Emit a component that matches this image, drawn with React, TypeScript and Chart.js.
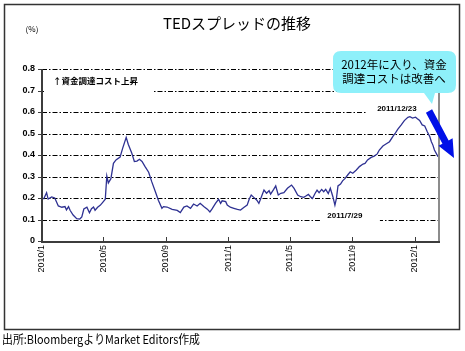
import { useEffect, useRef } from "react";
import { Chart, registerables } from "chart.js";

Chart.register(...registerables);

// ---- data ----
const dates = [
  "2010/01/04", "2010/01/10", "2010/01/13", "2010/01/20", "2010/01/26", "2010/02/02", "2010/02/09", "2010/02/15",
  "2010/02/18", "2010/02/22", "2010/02/25", "2010/03/03", "2010/03/10", "2010/03/16", "2010/03/20", "2010/03/24",
  "2010/03/30", "2010/04/04", "2010/04/08", "2010/04/12", "2010/04/15", "2010/04/20", "2010/04/25", "2010/04/30",
  "2010/05/05", "2010/05/08", "2010/05/11", "2010/05/16", "2010/05/21", "2010/05/26", "2010/06/03", "2010/06/08",
  "2010/06/15", "2010/06/19", "2010/06/26", "2010/07/01", "2010/07/06", "2010/07/11", "2010/07/16", "2010/07/22",
  "2010/07/29", "2010/08/04", "2010/08/11", "2010/08/17", "2010/08/24", "2010/08/27", "2010/09/03", "2010/09/13",
  "2010/09/23", "2010/09/29", "2010/10/06", "2010/10/12", "2010/10/19", "2010/10/25", "2010/11/01", "2010/11/07",
  "2010/11/14", "2010/11/21", "2010/11/26", "2010/11/30", "2010/12/07", "2010/12/13", "2010/12/17", "2010/12/20",
  "2010/12/27", "2010/12/30", "2011/01/05", "2011/01/12", "2011/01/19", "2011/01/25", "2011/02/01", "2011/02/07",
  "2011/02/11", "2011/02/15", "2011/02/20", "2011/02/26", "2011/03/02", "2011/03/07", "2011/03/12", "2011/03/17",
  "2011/03/22", "2011/03/25", "2011/03/31", "2011/04/04", "2011/04/09", "2011/04/14", "2011/04/20", "2011/04/27",
  "2011/05/05", "2011/05/10", "2011/05/17", "2011/05/23", "2011/05/29", "2011/06/02", "2011/06/07", "2011/06/11",
  "2011/06/15", "2011/06/20", "2011/06/24", "2011/06/28", "2011/07/03", "2011/07/07", "2011/07/11", "2011/07/16",
  "2011/07/20", "2011/07/25", "2011/07/29", "2011/08/01", "2011/08/04", "2011/08/09", "2011/08/13", "2011/08/18",
  "2011/08/23", "2011/08/28", "2011/09/02", "2011/09/09", "2011/09/15", "2011/09/22", "2011/09/26", "2011/10/01",
  "2011/10/08", "2011/10/14", "2011/10/20", "2011/10/24", "2011/10/31", "2011/11/06", "2011/11/13", "2011/11/20",
  "2011/11/24", "2011/11/29", "2011/12/06", "2011/12/12", "2011/12/19", "2011/12/23", "2011/12/28", "2012/01/03",
  "2012/01/06", "2012/01/11", "2012/01/16", "2012/01/21", "2012/01/26", "2012/01/31", "2012/02/03", "2012/02/06",
  "2012/02/09", "2012/02/16",
];

const tedSpread = [
  0.194, 0.225, 0.195, 0.205, 0.2, 0.163, 0.157, 0.16,
  0.145, 0.16, 0.143, 0.121, 0.104, 0.102, 0.112, 0.149,
  0.157, 0.131, 0.15, 0.158, 0.143, 0.157, 0.166, 0.18,
  0.194, 0.302, 0.27, 0.29, 0.361, 0.377, 0.39, 0.431,
  0.482, 0.45, 0.408, 0.37, 0.372, 0.38, 0.37, 0.346,
  0.32, 0.276, 0.23, 0.19, 0.152, 0.16, 0.158, 0.147,
  0.142, 0.132, 0.158, 0.163, 0.152, 0.172, 0.163, 0.175,
  0.16, 0.148, 0.135, 0.148, 0.175, 0.194, 0.175, 0.187,
  0.183, 0.167, 0.157, 0.152, 0.147, 0.144, 0.157, 0.167,
  0.194, 0.214, 0.203, 0.19, 0.175, 0.206, 0.237, 0.222,
  0.234, 0.218, 0.24, 0.256, 0.214, 0.222, 0.225, 0.245,
  0.26, 0.245, 0.214, 0.206, 0.203, 0.209, 0.217, 0.206,
  0.198, 0.221, 0.237, 0.225, 0.24, 0.229, 0.24, 0.221,
  0.245, 0.206, 0.167, 0.198, 0.256, 0.265, 0.28, 0.291,
  0.307, 0.322, 0.315, 0.33, 0.346, 0.358, 0.361, 0.377,
  0.389, 0.395, 0.405, 0.423, 0.442, 0.451, 0.462, 0.488,
  0.5, 0.519, 0.54, 0.56, 0.575, 0.578, 0.572, 0.576,
  0.57, 0.561, 0.54, 0.535, 0.508, 0.485, 0.462, 0.446,
  0.423, 0.392,
];

const xTickLabels = ["2010/1", "2010/5", "2010/9", "2011/1", "2011/5", "2011/9", "2012/1"];
const yTickValues = [0, 0.1, 0.2, 0.3, 0.4, 0.5, 0.6, 0.7, 0.8];
const axisStart = "2010/1/1";
const axisEnd = "2012/2/16";

const titleText = "TEDスプレッドの推移";
const unitText = "(%)";
const riseNote = "↑資金調達コスト上昇";
const peakDate = "2011/12/23";
const troughDate = "2011/7/29";
const calloutLines = ["2012年に入り、資金", "調達コストは改善へ"];
const sourceText = "出所:BloombergよりMarket Editors作成";

// ---- helpers ----
const DAY = 86400000;
function toDay(s: string): number {
  const p = s.split("/").map(Number);
  const [sy, sm, sd] = axisStart.split("/").map(Number);
  return Math.round((Date.UTC(p[0], p[1] - 1, p[2] || 1) - Date.UTC(sy, sm - 1, sd)) / DAY);
}

const JP = "'Noto Sans CJK JP', 'Noto Sans', sans-serif";
const LAT = "'Liberation Sans', Arial, sans-serif";

const decor = {
  id: "decor",
  beforeDraw(chart: any) {
    const ctx = chart.ctx;
    ctx.save();
    ctx.fillStyle = "#ffffff";
    ctx.fillRect(0, 0, chart.width, chart.height);
    ctx.restore();
  },
  beforeDatasetsDraw(chart: any) {
    const ctx = chart.ctx;
    const xs = chart.scales.x;
    const ys = chart.scales.y;
    const { left, right, top, bottom } = chart.chartArea;
    ctx.save();
    // grid lines (dash-dot)
    ctx.strokeStyle = "#000000";
    ctx.lineWidth = 1;
    ctx.setLineDash([5, 2, 1.5, 2]);
    yTickValues.forEach((v) => {
      if (v === 0) return;
      const y = Math.round(ys.getPixelForValue(v)) + 0.5;
      ctx.beginPath();
      ctx.moveTo(left, y);
      ctx.lineTo(right, y);
      ctx.stroke();
    });
    ctx.setLineDash([]);

    // label masks + labels
    ctx.fillStyle = "#ffffff";
    const y07 = ys.getPixelForValue(0.7);
    ctx.fillRect(left + 2, y07 - 18, 108, 24);
    const pkX = xs.getPixelForValue(toDay(peakDate));
    const pkY = ys.getPixelForValue(0.6);
    ctx.fillRect(pkX - 43, pkY - 10, right - (pkX - 43), 16);
    const trX = xs.getPixelForValue(toDay(troughDate));
    const trY = ys.getPixelForValue(0.1);
    ctx.fillRect(trX - 15, trY - 10, 60, 14);

    ctx.fillStyle = "#000000";
    ctx.textBaseline = "middle";
    ctx.textAlign = "left";
    ctx.font = `bold 8.5px ${JP}`;
    ctx.fillText(riseNote, left + 11, y07 - 10);
    ctx.font = `bold 8px ${LAT}`;
    ctx.textAlign = "center";
    ctx.fillText(peakDate, pkX - 13, pkY - 3);
    ctx.fillText(troughDate, trX + 10, trY - 3.5);

    // axes
    ctx.strokeStyle = "#8c8c8c";
    ctx.lineWidth = 2;
    ctx.beginPath();
    ctx.moveTo(right + 1, top);
    ctx.lineTo(right + 1, bottom + 1);
    ctx.stroke();
    ctx.strokeStyle = "#3c3c3c";
    ctx.beginPath();
    ctx.moveTo(left, top);
    ctx.lineTo(left, bottom + 1);
    ctx.lineTo(right + 2, bottom + 1);
    ctx.stroke();
    ctx.lineWidth = 1;
    xTickLabels.forEach((l) => {
      const x = Math.round(xs.getPixelForValue(toDay(l))) + 0.5;
      ctx.beginPath();
      ctx.moveTo(x, bottom - 4);
      ctx.lineTo(x, bottom);
      ctx.stroke();
    });
    yTickValues.forEach((v) => {
      const y = Math.round(ys.getPixelForValue(v)) + 0.5;
      ctx.beginPath();
      ctx.moveTo(left - 4, y);
      ctx.lineTo(left, y);
      ctx.stroke();
    });
    ctx.restore();
  },
  afterDraw(chart: any) {
    const ctx = chart.ctx;
    ctx.save();
    // title
    ctx.fillStyle = "#000000";
    ctx.textBaseline = "middle";
    ctx.textAlign = "center";
    ctx.font = `15px ${JP}`;
    ctx.fillText(titleText, 237, 23);
    ctx.font = `8px ${JP}`;
    ctx.fillText(unitText, 32, 29);

    // footer
    ctx.textAlign = "left";
    ctx.font = `12px ${JP}`;
    ctx.fillText(sourceText, 2, 339, 198);

    // frame
    ctx.strokeStyle = "#333333";
    ctx.lineWidth = 1.5;
    ctx.strokeRect(4.5, 4.5, 455, 325);

    // callout
    const bx = 333, by = 51, bw = 123, bh = 42, r = 8;
    ctx.fillStyle = "rgb(142,240,250)";
    ctx.beginPath();
    ctx.moveTo(bx + r, by);
    ctx.lineTo(bx + bw - r, by);
    ctx.quadraticCurveTo(bx + bw, by, bx + bw, by + r);
    ctx.lineTo(bx + bw, by + bh - r);
    ctx.quadraticCurveTo(bx + bw, by + bh, bx + bw - r, by + bh);
    ctx.lineTo(435, by + bh);
    ctx.lineTo(432, 104);
    ctx.lineTo(424, by + bh);
    ctx.lineTo(bx + r, by + bh);
    ctx.quadraticCurveTo(bx, by + bh, bx, by + bh - r);
    ctx.lineTo(bx, by + r);
    ctx.quadraticCurveTo(bx, by, bx + r, by);
    ctx.closePath();
    ctx.fill();
    ctx.fillStyle = "#000000";
    ctx.textAlign = "center";
    ctx.font = `11.5px ${JP}`;
    ctx.fillText(calloutLines[0], 394, 65);
    ctx.fillText(calloutLines[1], 394, 79);

    // arrow
    const sx = 429, sy = 111, tx = 454, ty = 158;
    const dx = tx - sx, dy = ty - sy;
    const len = Math.hypot(dx, dy);
    const ux = dx / len, uy = dy / len;
    const nx = -uy, ny = ux;
    const hl = 18, hw = 8, sw = 3.5;
    const hx = tx - ux * hl, hy = ty - uy * hl;
    ctx.fillStyle = "#0010e8";
    ctx.beginPath();
    ctx.moveTo(sx + nx * sw, sy + ny * sw);
    ctx.lineTo(hx + nx * sw, hy + ny * sw);
    ctx.lineTo(hx + nx * hw, hy + ny * hw);
    ctx.lineTo(tx, ty);
    ctx.lineTo(hx - nx * hw, hy - ny * hw);
    ctx.lineTo(hx - nx * sw, hy - ny * sw);
    ctx.lineTo(sx - nx * sw, sy - ny * sw);
    ctx.closePath();
    ctx.fill();
    ctx.restore();
  },
};

export default function App() {
  const ref = useRef<HTMLCanvasElement | null>(null);
  useEffect(() => {
    document.body.style.margin = "0";
    const canvas = ref.current;
    if (!canvas) return;
    const points = dates.map((d, i) => ({ x: toDay(d), y: tedSpread[i] }));
    const chart = new Chart(canvas, {
      type: "line",
      data: {
        datasets: [
          {
            data: points,
            borderColor: "#2e3192",
            borderWidth: 1.3,
            pointRadius: 0,
            tension: 0,
            fill: false,
          },
        ],
      },
      options: {
        responsive: false,
        animation: false,
        devicePixelRatio: 1,
        layout: { padding: { left: 0, right: 27, top: 69, bottom: 0 } },
        plugins: { legend: { display: false }, tooltip: { enabled: false }, title: { display: false } },
        scales: {
          x: {
            type: "linear",
            min: 0,
            max: toDay(axisEnd),
            grid: { display: false, drawTicks: false },
            border: { display: false },
            afterBuildTicks: (s: any) => {
              s.ticks = xTickLabels.map((l) => ({ value: toDay(l) }));
            },
            ticks: {
              autoSkip: false,
              minRotation: 90,
              maxRotation: 90,
              padding: 4,
              color: "#000000",
              font: { size: 9, family: LAT },
              callback: (v: any) => {
                const i = xTickLabels.findIndex((l) => toDay(l) === v);
                return i >= 0 ? xTickLabels[i] : "";
              },
            },
            afterFit: (s: any) => {
              s.height = 110;
            },
          },
          y: {
            min: 0,
            max: 0.8,
            grid: { display: false, drawTicks: false },
            border: { display: false },
            afterBuildTicks: (s: any) => {
              s.ticks = yTickValues.map((v) => ({ value: v }));
            },
            ticks: {
              padding: 7,
              color: "#000000",
              font: { size: 9, weight: "bold", family: LAT },
              callback: (v: any) => (v === 0 ? "0" : Number(v).toFixed(1)),
            },
            afterFit: (s: any) => {
              s.width = 42;
            },
          },
        },
      },
      plugins: [decor],
    } as any);
    return () => chart.destroy();
  }, []);
  return (
    <div style={{ width: 465, height: 351 }}>
      <canvas ref={ref} width={465} height={351} style={{ display: "block", width: 465, height: 351 }} />
    </div>
  );
}
